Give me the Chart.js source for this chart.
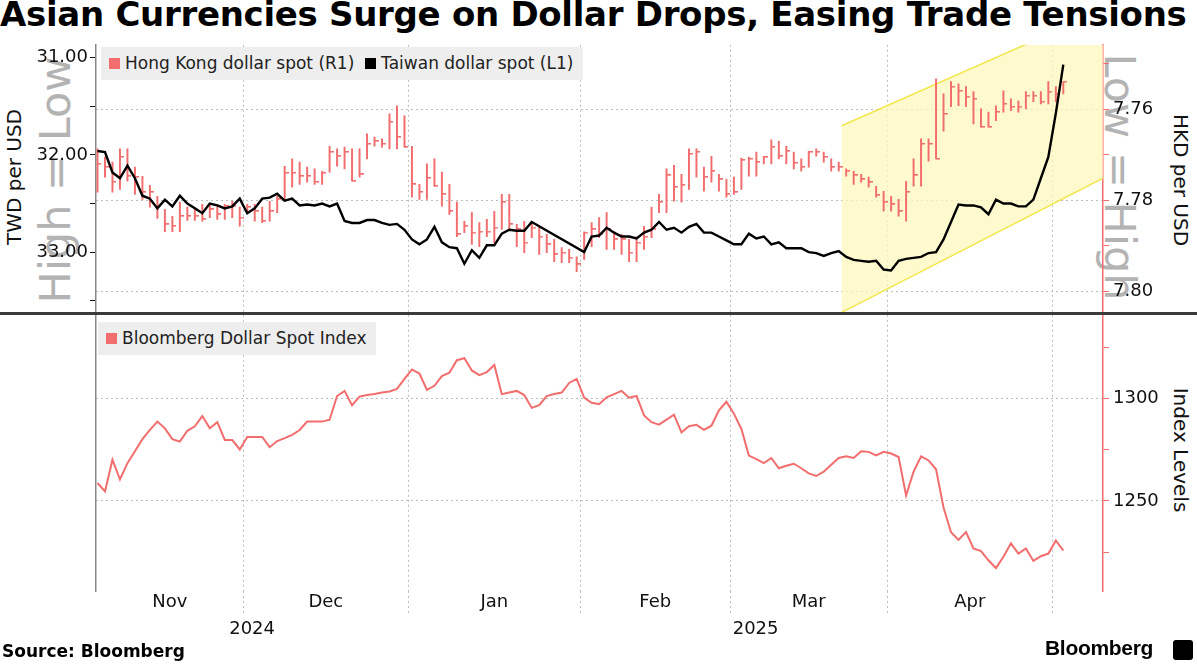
<!DOCTYPE html>
<html>
<head>
<meta charset="utf-8">
<script src="https://cdn.jsdelivr.net/npm/chart.js@4.4.1/dist/chart.umd.min.js"></script>
<style>
  body { margin: 0; background: #fff; font-family: "DejaVu Sans", sans-serif; }
  #wrap { position: relative; width: 1197px; height: 664px; overflow: hidden; }
  .abs { position: absolute; white-space: nowrap; }
  canvas { position: absolute; left: 0; }
  .legend { position: absolute; background: #eeeeee; font-size: 17px; color: #222; height: 33px; line-height: 33px; padding: 0 10px 0 8px; }
  .legend span.sw { display: inline-block; width: 11px; height: 11px; margin-right: 5px; vertical-align: 0px; }
  .rot { position: absolute; white-space: nowrap; transform-origin: center center; }
</style>
</head>
<body>
<div id="wrap">
  <div class="abs" style="left:0;top:-6px;font:bold 34px 'DejaVu Sans';letter-spacing:-0.3px;color:#000">Asian Currencies Surge on Dollar Drops, Easing Trade Tensions</div>

  <div class="rot" style="left:-95px;top:155px;width:300px;text-align:center;font-size:43px;color:#b3b3b3;transform:rotate(-90deg)">High = Low</div>
  <div class="rot" style="left:970px;top:152px;width:300px;text-align:center;font-size:43px;color:#b3b3b3;transform:rotate(90deg)">Low = High</div>
  <div class="rot" style="left:-86px;top:165px;width:200px;text-align:center;font-size:20px;color:#111;transform:rotate(-90deg)">TWD per USD</div>
  <div class="rot" style="left:1081px;top:168px;width:200px;text-align:center;font-size:20px;color:#111;transform:rotate(90deg)">HKD per USD</div>
  <div class="rot" style="left:1081px;top:438px;width:200px;text-align:center;font-size:20px;color:#111;transform:rotate(90deg)">Index Levels</div>

  <canvas id="top" width="1197" height="297" style="top:30px"></canvas>
  <canvas id="bot" width="1197" height="356" style="top:300px"></canvas>

  <div class="abs" style="left:0;top:312px;width:1197px;height:3px;background:#3a3a3a"></div>

  <div class="legend" style="left:101px;top:47px"><span class="sw" style="background:#f26d6d"></span>Hong Kong dollar spot (R1) &nbsp;<span class="sw" style="background:#000"></span>Taiwan dollar spot (L1)</div>
  <div class="legend" style="left:98px;top:322px"><span class="sw" style="background:#f26d6d"></span>Bloomberg Dollar Spot Index</div>

  <div class="abs" style="left:2px;top:641px;font:bold 17px 'DejaVu Sans';color:#000">Source: Bloomberg</div>
  <div class="abs" style="left:1045px;top:636px;font:bold 21px 'Liberation Sans';color:#000;letter-spacing:-0.3px">Bloomberg</div>
  <div class="abs" style="left:1173px;top:640px;width:20px;height:20px;background:#000;border-radius:3px"></div>
</div>

<script>
// trading-day index: 0 = 4 Nov 2024 ... 129 = 2 May 2025
const monthNames = ['Nov', 'Dec', 'Jan', 'Feb', 'Mar', 'Apr'];
const monthStarts = [19.5, 41.5, 64.5, 84.5, 105.5, 127.5]; // Dec 1 .. May 1
const yearNames = ['2024', '2025'];
const xMin = -0.2, xMax = 134.3;

const twdTicks = [31, 31.5, 32, 32.5, 33, 33.5];
const hkdTicks = [7.75, 7.76, 7.77, 7.78, 7.79, 7.80];
const dxyTicks = [1225, 1250, 1275, 1300, 1325];

const twd = [31.96,31.97,32.18,32.24,32.11,32.24,32.42,32.45,32.55,32.46,
  32.53,32.42,32.50,32.55,32.60,32.50,32.52,32.55,32.53,32.45,
  32.60,32.55,32.45,32.44,32.40,32.47,32.45,32.52,32.51,32.52,
  32.50,32.53,32.50,32.68,32.70,32.70,32.67,32.67,32.70,32.72,
  32.71,32.77,32.87,32.92,32.87,32.74,32.90,32.95,32.96,33.12,
  32.98,33.06,32.93,32.93,32.81,32.77,32.78,32.78,32.69,null,
  null,null,null,null,null,33.00,32.84,32.83,32.75,32.80,
  32.84,32.84,32.86,32.80,32.77,32.69,32.77,32.75,32.80,32.74,
  32.71,32.80,32.80,32.84,32.88,32.92,32.92,32.81,32.86,32.84,
  32.92,32.90,32.96,32.96,32.96,33.00,33.01,33.04,33.01,32.99,
  33.05,33.08,33.09,33.10,33.09,33.18,33.19,33.09,33.07,33.06,
  33.05,33.01,33.00,32.87,32.69,32.51,32.52,32.52,32.54,32.61,
  32.46,32.50,32.50,32.53,32.53,32.46,32.24,32.02,31.57,31.07];

const hkMin = [7.7687,7.7705,7.7716,7.7687,7.7687,7.7727,7.7747,7.7767,7.7791,7.7820,
  7.7835,7.7804,7.7815,7.7817,7.7809,7.7809,7.7809,7.7809,7.7802,7.7815,
  7.7809,7.7809,7.7815,7.7802,7.7791,7.7725,7.7709,7.7716,7.7727,7.7731,
  7.7736,7.7681,7.7687,7.7683,7.7687,7.7687,7.7654,7.7661,7.7665,7.7610,
  7.7592,7.7614,7.7681,7.7765,7.7720,7.7709,7.7738,7.7765,7.7804,7.7846,
  7.7827,7.7849,7.7842,7.7824,7.7787,7.7787,7.7853,7.7846,7.7846,7.7860,
  7.7875,7.7886,7.7904,7.7908,7.7924,7.7869,7.7849,7.7838,7.7827,7.7869,
  7.7875,7.7886,7.7880,7.7857,7.7815,7.7787,7.7731,7.7723,7.7743,7.7687,
  7.7687,7.7727,7.7703,7.7743,7.7754,7.7749,7.7707,7.7705,7.7694,7.7703,
  7.7667,7.7670,7.7681,7.7694,7.7709,7.7692,7.7687,7.7694,7.7709,7.7716,
  7.7731,7.7736,7.7743,7.7749,7.7769,7.7780,7.7791,7.7798,7.7758,7.7709,
  7.7665,7.7665,7.7533,7.7566,7.7539,7.7544,7.7550,7.7561,7.7599,7.7606,
  7.7592,7.7559,7.7577,7.7581,7.7561,7.7561,7.7561,7.7539,7.7550,7.7539];

const hkMax = [7.7782,7.7749,7.7782,7.7776,7.7758,7.7787,7.7798,7.7815,7.7840,7.7869,
  7.7869,7.7869,7.7844,7.7844,7.7846,7.7838,7.7842,7.7842,7.7838,7.7857,
  7.7827,7.7846,7.7849,7.7846,7.7827,7.7802,7.7771,7.7765,7.7760,7.7765,
  7.7765,7.7738,7.7725,7.7731,7.7758,7.7749,7.7709,7.7681,7.7683,7.7687,
  7.7687,7.7683,7.7793,7.7798,7.7798,7.7769,7.7813,7.7831,7.7880,7.7871,
  7.7897,7.7902,7.7880,7.7893,7.7864,7.7864,7.7902,7.7915,7.7882,7.7919,
  7.7915,7.7935,7.7937,7.7937,7.7957,7.7930,7.7902,7.7882,7.7908,7.7908,
  7.7919,7.7935,7.7935,7.7908,7.7882,7.7827,7.7827,7.7802,7.7804,7.7776,
  7.7749,7.7780,7.7760,7.7780,7.7793,7.7787,7.7776,7.7747,7.7747,7.7720,
  7.7720,7.7709,7.7720,7.7731,7.7736,7.7727,7.7703,7.7716,7.7736,7.7736,
  7.7747,7.7765,7.7760,7.7771,7.7793,7.7824,7.7824,7.7835,7.7846,7.7769,
  7.7769,7.7714,7.7709,7.7648,7.7594,7.7592,7.7594,7.7632,7.7639,7.7639,
  7.7625,7.7606,7.7603,7.7606,7.7599,7.7583,7.7588,7.7588,7.7583,7.7566];

const hkClose = [7.7720,7.7727,7.7760,7.7705,7.7747,7.7749,7.7782,7.7782,7.7813,7.7853,
  7.7857,7.7835,7.7835,7.7835,7.7842,7.7820,7.7831,7.7813,7.7813,7.7838,
  7.7815,7.7824,7.7846,7.7824,7.7798,7.7740,7.7740,7.7747,7.7747,7.7760,
  7.7740,7.7694,7.7703,7.7694,7.7758,7.7743,7.7676,7.7670,7.7676,7.7628,
  7.7661,7.7683,7.7765,7.7782,7.7751,7.7769,7.7787,7.7824,7.7875,7.7857,
  7.7871,7.7869,7.7869,7.7860,7.7804,7.7853,7.7864,7.7893,7.7860,7.7880,
  7.7897,7.7919,7.7915,7.7926,7.7941,7.7871,7.7864,7.7875,7.7864,7.7886,
  7.7886,7.7915,7.7893,7.7880,7.7864,7.7804,7.7745,7.7771,7.7767,7.7698,
  7.7694,7.7749,7.7736,7.7754,7.7787,7.7782,7.7712,7.7709,7.7716,7.7705,
  7.7683,7.7703,7.7692,7.7718,7.7727,7.7694,7.7694,7.7705,7.7727,7.7727,
  7.7736,7.7745,7.7754,7.7760,7.7789,7.7804,7.7809,7.7824,7.7782,7.7745,
  7.7676,7.7676,7.7709,7.7610,7.7550,7.7559,7.7572,7.7577,7.7639,7.7639,
  7.7606,7.7588,7.7594,7.7594,7.7570,7.7570,7.7583,7.7561,7.7566,7.7539];

const dxy = [1258.8,1254.7,1270.2,1260.5,1268.5,1274.3,1280.2,1284.8,1288.8,1285.5,
  1280.2,1279.0,1284.3,1286.5,1291.5,1285.5,1288.5,1279.8,1279.8,1275.2,
  1281.3,1281.3,1281.3,1276.3,1279.3,1280.7,1282.3,1284.7,1288.8,1288.8,
  1288.8,1289.7,1301.3,1303.8,1296.8,1301.0,1301.8,1302.3,1303.0,1303.5,
  1304.8,1309.7,1314.3,1312.3,1304.3,1306.3,1311.0,1312.7,1318.8,1319.8,
  1313.8,1311.5,1313.0,1316.5,1302.2,1303.0,1303.8,1301.8,1295.5,1296.8,
  1301.3,1302.3,1303.0,1307.7,1309.7,1300.5,1298.0,1297.3,1300.7,1302.2,
  1303.8,1300.5,1301.3,1291.8,1288.5,1287.3,1289.8,1292.2,1283.5,1286.5,
  1287.2,1284.8,1286.8,1294.3,1298.5,1292.7,1285.2,1272.2,1270.5,1268.5,
  1271.0,1266.0,1267.2,1268.2,1266.0,1263.5,1262.2,1264.3,1267.7,1271.0,
  1271.8,1271.0,1274.3,1274.0,1272.3,1274.0,1273.2,1271.5,1252.7,1264.3,
  1271.8,1269.8,1265.5,1246.8,1234.7,1231.0,1234.8,1226.8,1225.5,1221.0,
  1217.2,1222.7,1229.3,1224.3,1226.8,1220.7,1223.0,1224.3,1230.7,1225.7];

// highlighted trend channel (TWD axis)
const channelTop = [{x: 99.4, y: 31.70}, {x: 134.3, y: 30.51}];
const channelBottom = [{x: 99.4, y: 33.62}, {x: 134.3, y: 32.24}];

const RED = '#f26d6d';
const GRID = '#bdbdbd';
const DASH = [2, 3];
const FONT = {family: 'DejaVu Sans', size: 18};

const monthCenters = monthNames.map((m, k) => ((k === 0 ? xMin : monthStarts[k - 1]) + monthStarts[k]) / 2);
const yearCenters = [(xMin + monthStarts[1]) / 2, (monthStarts[1] + xMax) / 2];

function setTicks(values) {
    return function (scale) { scale.ticks = values.map(v => ({value: v})); };
}
function fixWidth(w) { return function (scale) { scale.width = w; }; }
function fixHeight(h) { return function (scale) { scale.height = h; }; }
function near(a, b) { return Math.abs(a - b) < 1e-6; }
function isBoundary(v) { return monthStarts.some(s => near(s, v)); }

// close tick drawn to the right of each bar
const closeMark = document.createElement('canvas');
closeMark.width = 8; closeMark.height = 2;
(function () {
    const c = closeMark.getContext('2d');
    c.fillStyle = RED;
    c.fillRect(4, 0, 4, 1.5);
})();

const days = twd.map((v, i) => i);

function monthGrid(extra) {
    return Object.assign({
        type: 'linear', min: xMin, max: xMax, offset: false,
        afterBuildTicks: setTicks(monthStarts.concat(monthCenters)),
        grid: {
            offset: false, drawTicks: true, tickLength: 24,
            color: c => (c.tick && isBoundary(c.tick.value)) ? GRID : 'transparent',
            tickColor: c => (c.tick && isBoundary(c.tick.value)) ? GRID : 'transparent',
            lineWidth: 1, tickBorderDash: DASH
        },
        border: {display: false, dash: DASH},
        ticks: {display: false}
    }, extra || {});
}

new Chart(document.getElementById('top'), {
    type: 'bar',
    data: {
        datasets: [
            {type: 'line', data: channelTop, yAxisID: 'twd', borderColor: '#f3e64a', borderWidth: 1.5,
             backgroundColor: 'rgba(255,248,190,0.75)', fill: '+1', pointRadius: 0, order: 10},
            {type: 'line', data: channelBottom, yAxisID: 'twd', borderColor: '#f3e64a', borderWidth: 1.5,
             pointRadius: 0, fill: false, order: 9},
            {type: 'bar', data: days.map(i => ({x: i, y: [hkMin[i], hkMax[i]]})), yAxisID: 'hkd',
             backgroundColor: RED, barThickness: 1.3, order: 3},
            {type: 'line', data: days.map(i => ({x: i, y: hkClose[i]})), yAxisID: 'hkd', showLine: false,
             pointStyle: closeMark, pointRadius: 4, order: 2},
            {type: 'line', data: days.map(i => ({x: i, y: twd[i]})), yAxisID: 'twd', borderColor: '#000',
             borderWidth: 2.4, pointRadius: 0, spanGaps: true, tension: 0, order: 1}
        ]
    },
    options: {
        responsive: false, animation: false, devicePixelRatio: 1,
        layout: {padding: {top: 5, bottom: 3, left: 0, right: 0}},
        plugins: {legend: {display: false}, tooltip: {enabled: false}},
        scales: {
            x: monthGrid({afterFit: fixHeight(0), grid: {
                offset: false, drawTicks: false,
                color: c => (c.tick && isBoundary(c.tick.value)) ? GRID : 'transparent'
            }}),
            twd: {
                position: 'left', reverse: true, min: 30.866, max: 33.619,
                afterBuildTicks: setTicks(twdTicks), afterFit: fixWidth(96),
                grid: {drawOnChartArea: false, tickLength: 6, tickColor: '#111'},
                border: {color: '#888', width: 1.5},
                ticks: {font: FONT, color: '#111', padding: 2,
                        callback: v => (v % 1 === 0 ? v.toFixed(2) : '')}
            },
            hkd: {
                position: 'right', reverse: true, min: 7.7458, max: 7.8046,
                afterBuildTicks: setTicks(hkdTicks), afterFit: fixWidth(94),
                grid: {
                    tickLength: 6, tickColor: RED,
                    color: c => (c.tick && [7.76, 7.78, 7.80].some(t => near(t, c.tick.value))) ? GRID : 'transparent'
                },
                border: {color: RED, width: 1.5, dash: DASH},
                ticks: {font: FONT, color: '#111', padding: 4,
                        callback: v => ([7.76, 7.78, 7.80].some(t => near(t, v)) ? v.toFixed(2) : '')}
            }
        }
    }
});

new Chart(document.getElementById('bot'), {
    type: 'line',
    data: {
        datasets: [
            {data: days.map(i => ({x: i, y: dxy[i]})), yAxisID: 'dxy', borderColor: RED, borderWidth: 2,
             pointRadius: 0, tension: 0}
        ]
    },
    options: {
        responsive: false, animation: false, devicePixelRatio: 1,
        layout: {padding: {top: 0, bottom: 0, left: 0, right: 0}},
        plugins: {legend: {display: false}, tooltip: {enabled: false}},
        scales: {
            x: monthGrid({
                afterFit: fixHeight(20),
                ticks: {display: true, font: FONT, color: '#111', padding: -23, maxRotation: 0, autoSkip: false,
                        callback: v => {
                            const k = monthCenters.findIndex(c => near(c, v));
                            return k >= 0 ? monthNames[k] : '';
                        }}
            }),
            yr: {
                type: 'linear', position: 'bottom', min: xMin, max: xMax, offset: false,
                afterBuildTicks: setTicks(yearCenters), afterFit: fixHeight(45),
                grid: {display: false}, border: {display: false},
                ticks: {font: FONT, color: '#111', padding: 0, maxRotation: 0, autoSkip: false,
                        callback: (v, k) => yearNames[k]}
            },
            side: {
                position: 'left', min: 1206, max: 1341, afterFit: fixWidth(96),
                grid: {display: false}, ticks: {display: false},
                border: {color: '#888', width: 1.5}
            },
            dxy: {
                position: 'right', min: 1206, max: 1341,
                afterBuildTicks: setTicks(dxyTicks), afterFit: fixWidth(94),
                grid: {
                    tickLength: 6, tickColor: RED,
                    color: c => (c.tick && (c.tick.value === 1250 || c.tick.value === 1300)) ? GRID : 'transparent'
                },
                border: {color: RED, width: 1.5, dash: DASH},
                ticks: {font: FONT, color: '#111', padding: 4,
                        callback: v => (v === 1250 || v === 1300 ? String(v) : '')}
            }
        }
    }
});
</script>
</body>
</html>
